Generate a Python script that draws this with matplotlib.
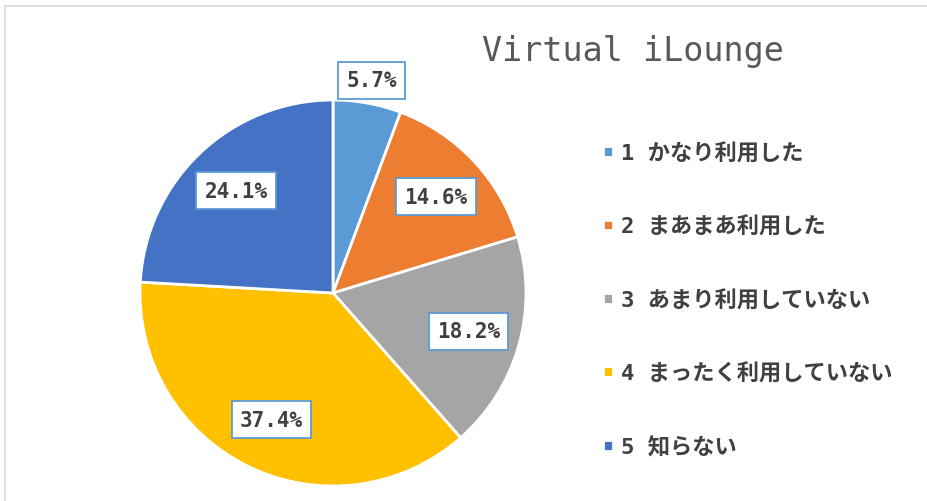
import numpy as np
import matplotlib.pyplot as plt
from matplotlib.patches import Rectangle

plt.rcParams['font.family'] = ['DejaVu Sans Mono', 'Noto Sans CJK JP']

# ===== DATA =====
title = "Virtual iLounge"
categories = ["1 かなり利用した", "2 まあまあ利用した", "3 あまり利用していない",
              "4 まったく利用していない", "5 知らない"]
shares = [5.7, 14.6, 18.2, 37.4, 24.1]
colors = ["#5B9BD5", "#ED7D31", "#A5A5A5", "#FFC000", "#4472C4"]
text_color = "#404040"

W, H = 927, 502
fig = plt.figure(figsize=(W / 100, H / 100), dpi=100)

# chart frame (light grey border, runs off right/bottom edges)
fig.patches.append(Rectangle((5 / W, -0.05), 1.0, (H - 7) / H + 0.05,
                             transform=fig.transFigure, fill=False,
                             edgecolor="#D9D9D9", linewidth=1.2))

# pie axes: centre (333, 294) px, radius 193 px
cx, cy, r = 333, 294, 193
ax = fig.add_axes([(cx - r) / W, (H - cy - r) / H, 2 * r / W, 2 * r / H])

wedges, _ = ax.pie(shares, colors=colors, startangle=90, counterclock=False,
                   radius=1.0, wedgeprops=dict(edgecolor="white", linewidth=2))
ax.set_xlim(-1, 1)
ax.set_ylim(-1, 1)
ax.axis("off")

# data labels in boxes (all boxes share the light blue outline)
for i, (w, v) in enumerate(zip(wedges, shares)):
    ang = np.deg2rad((w.theta1 + w.theta2) / 2)
    d = 1.12 if i == 0 else 0.73
    ax.text(d * np.cos(ang), d * np.sin(ang), f"{v:.1f}%", ha="center", va="center",
            fontsize=15, fontweight="bold", color=text_color, zorder=5,
            bbox=dict(boxstyle="square,pad=0.4", facecolor="white",
                      edgecolor="#5B9BD5", linewidth=1.3))

fig.text(633 / W, 1 - 52 / H, title, ha="center", va="center",
         fontsize=24, color="#595959")

leg = fig.legend(wedges, categories, loc="upper left",
                 bbox_to_anchor=(592 / W, 1 - 132 / H), frameon=False,
                 fontsize=16, labelspacing=2.35, handlelength=0.45,
                 handleheight=0.35, handletextpad=0.35, borderpad=0)
for t in leg.get_texts():
    t.set_color(text_color)
    t.set_fontweight("bold")

fig.savefig("out.png", dpi=100)
